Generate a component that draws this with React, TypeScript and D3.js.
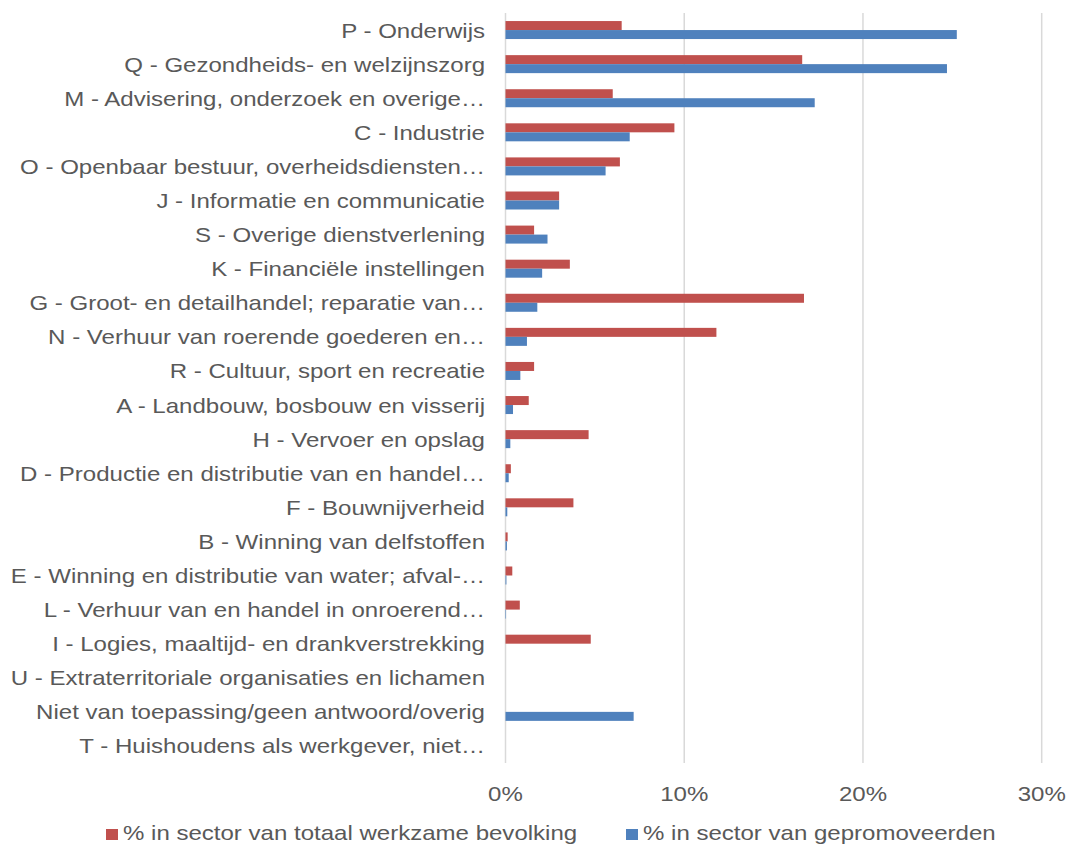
import React from "react";
import * as d3 from "d3";

const categories = [
  "P - Onderwijs",
  "Q - Gezondheids- en welzijnszorg",
  "M - Advisering, onderzoek en overige…",
  "C - Industrie",
  "O - Openbaar bestuur, overheidsdiensten…",
  "J - Informatie en communicatie",
  "S - Overige dienstverlening",
  "K - Financiële instellingen",
  "G - Groot- en detailhandel; reparatie van…",
  "N - Verhuur van roerende goederen en…",
  "R - Cultuur, sport en recreatie",
  "A - Landbouw, bosbouw en visserij",
  "H - Vervoer en opslag",
  "D - Productie en distributie van en handel…",
  "F - Bouwnijverheid",
  "B - Winning van delfstoffen",
  "E - Winning en distributie van water; afval-…",
  "L - Verhuur van en handel in onroerend…",
  "I - Logies, maaltijd- en drankverstrekking",
  "U - Extraterritoriale organisaties en lichamen",
  "Niet van toepassing/geen antwoord/overig",
  "T - Huishoudens als werkgever, niet…",
];

// % in sector van totaal werkzame bevolking
const totaalValues = [
  6.5, 16.6, 6.0, 9.45, 6.4, 3.0, 1.6, 3.6, 16.7, 11.8, 1.6, 1.3, 4.65, 0.3,
  3.8, 0.12, 0.38, 0.8, 4.77, 0, 0, 0,
];

// % in sector van gepromoveerden
const promovValues = [
  25.25, 24.7, 17.3, 6.95, 5.6, 3.0, 2.35, 2.05, 1.78, 1.2, 0.83, 0.42, 0.27,
  0.18, 0.1, 0.08, 0.05, 0.03, 0, 0, 7.17, 0,
];

const xTicks = [0, 10, 20, 30];
const seriesNames = [
  "% in sector van totaal werkzame bevolking",
  "% in sector van gepromoveerden",
];
const seriesColors = ["#c0504d", "#4f81bd"];

const W = 1070;
const H = 846;
const FONT = "'Liberation Sans', Arial, sans-serif";
const TEXT_COLOR = "#595959";
const FS = 21;
const SX = 1.145;

export default function App() {
  const x = d3.scaleLinear().domain([0, 30]).range([505.5, 1041.7]);
  const y = d3.scaleBand<string>().domain(categories).range([13, 763]).padding(0);
  const barH = 9;

  return (
    <svg
      width={W}
      height={H}
      style={{ position: "absolute", left: 0, top: 0, background: "#fff" }}
    >
      {/* gridlines */}
      {xTicks.map((t) => (
        <line
          key={"g" + t}
          x1={x(t)}
          x2={x(t)}
          y1={13}
          y2={763}
          stroke="#d9d9d9"
          strokeWidth={1.5}
        />
      ))}
      {/* bars */}
      {categories.map((c, i) => {
        const cy = (y(c) as number) + y.bandwidth() / 2;
        return (
          <g key={"b" + i}>
            {totaalValues[i] > 0 && (
              <rect
                x={x(0)}
                y={cy - barH}
                width={x(totaalValues[i]) - x(0)}
                height={barH}
                fill={seriesColors[0]}
              />
            )}
            {promovValues[i] > 0 && (
              <rect
                x={x(0)}
                y={cy}
                width={x(promovValues[i]) - x(0)}
                height={barH}
                fill={seriesColors[1]}
              />
            )}
          </g>
        );
      })}
      {/* category labels */}
      {categories.map((c, i) => {
        const cy = (y(c) as number) + y.bandwidth() / 2;
        return (
          <text
            key={"l" + i}
            transform={`translate(485, ${cy + 7.5}) scale(${SX}, 1)`}
            textAnchor="end"
            fontFamily={FONT}
            fontSize={FS}
            fill={TEXT_COLOR}
          >
            {c}
          </text>
        );
      })}
      {/* x tick labels */}
      {xTicks.map((t) => (
        <text
          key={"t" + t}
          transform={`translate(${x(t)}, 801) scale(${SX}, 1)`}
          textAnchor="middle"
          fontFamily={FONT}
          fontSize={FS}
          fill={TEXT_COLOR}
        >
          {t + "%"}
        </text>
      ))}
      {/* legend */}
      {[106, 626].map((lx, i) => (
        <g key={"leg" + i}>
          <rect x={lx} y={829} width={12} height={11} fill={seriesColors[i]} />
          <text
            transform={`translate(${lx + 17}, 840) scale(${SX}, 1)`}
            fontFamily={FONT}
            fontSize={FS}
            fill={TEXT_COLOR}
          >
            {seriesNames[i]}
          </text>
        </g>
      ))}
    </svg>
  );
}
